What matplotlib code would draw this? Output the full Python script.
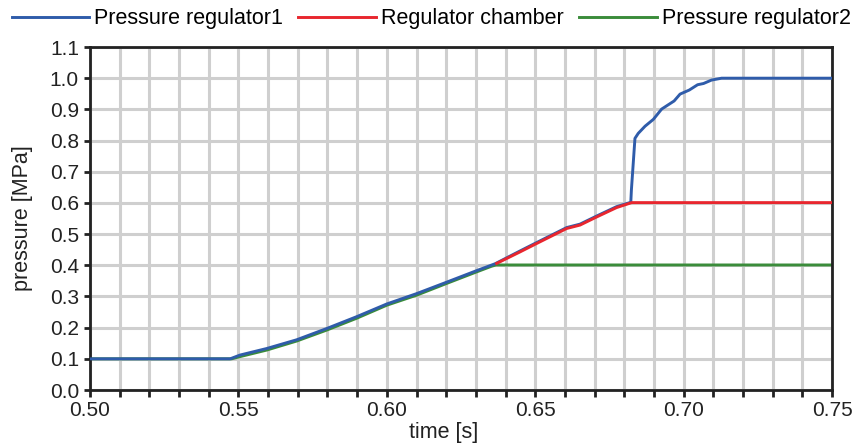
import matplotlib
matplotlib.use("Agg")
import matplotlib.pyplot as plt
from matplotlib.ticker import MultipleLocator, FormatStrFormatter

plt.rcParams["font.family"] = ["Liberation Sans", "DejaVu Sans"]

# Pressure regulator 1 (blue)
t_reg1 = [0.500, 0.5472, 0.5505, 0.5595, 0.5696, 0.5797, 0.5898, 0.600, 0.610,
          0.6202, 0.6303, 0.6365, 0.6449, 0.6505, 0.6606, 0.6651, 0.6707, 0.6774,
          0.6822, 0.6824, 0.6836, 0.6847, 0.687, 0.6898, 0.6926, 0.6968, 0.6988,
          0.7019, 0.7047, 0.7067, 0.7094, 0.7128, 0.755]
p_reg1 = [0.100, 0.100, 0.112, 0.133, 0.161, 0.197, 0.235, 0.276, 0.309,
          0.346, 0.383, 0.405, 0.446, 0.473, 0.521, 0.532, 0.558, 0.588,
          0.602, 0.641, 0.807, 0.823, 0.846, 0.868, 0.901, 0.927, 0.949,
          0.962, 0.979, 0.983, 0.994, 1.000, 1.000]

# Regulator chamber (red)
t_chamber = [0.637, 0.6449, 0.6505, 0.6606, 0.6651, 0.6707, 0.6774, 0.6825, 0.755]
p_chamber = [0.406, 0.443, 0.470, 0.518, 0.529, 0.555, 0.585, 0.601, 0.601]

# Pressure regulator 2 (green)
t_reg2 = [0.500, 0.5477, 0.5505, 0.5595, 0.5696, 0.5797, 0.5898, 0.600, 0.610,
          0.6202, 0.6303, 0.6353, 0.6368, 0.755]
p_reg2 = [0.100, 0.100, 0.107, 0.128, 0.157, 0.192, 0.230, 0.272, 0.304,
          0.342, 0.379, 0.397, 0.401, 0.401]

fig = plt.figure(figsize=(8.59, 4.44), dpi=100)
ax = fig.add_axes([0.1048, 0.1216, 0.8638, 0.7725])

ax.plot(t_reg1, p_reg1, color="#2f5caa", lw=2.1, label="Pressure regulator1", zorder=3)
ax.plot(t_chamber, p_chamber, color="#e8262e", lw=2.1, label="Regulator chamber", zorder=4)
ax.plot(t_reg2, p_reg2, color="#3a8c3a", lw=2.1, label="Pressure regulator2", zorder=2)

ax.set_xlim(0.50, 0.75)
ax.set_ylim(0.0, 1.1)
ax.xaxis.set_major_locator(MultipleLocator(0.05))
ax.xaxis.set_minor_locator(MultipleLocator(0.01))
ax.yaxis.set_major_locator(MultipleLocator(0.1))
ax.xaxis.set_major_formatter(FormatStrFormatter("%.2f"))
ax.yaxis.set_major_formatter(FormatStrFormatter("%.1f"))

ax.grid(True, which="both", axis="x", color="#cfcfcf", lw=2.2, zorder=0)
ax.grid(True, which="major", axis="y", color="#cfcfcf", lw=2.2, zorder=0)
ax.set_axisbelow(True)

for side in ["left", "bottom", "top", "right"]:
    ax.spines[side].set_color("#222222")
    ax.spines[side].set_linewidth(2.0)

ax.tick_params(axis="both", which="both", direction="out", color="#222222",
               width=2.0, labelsize=15, labelcolor="#222222")
ax.tick_params(axis="x", which="both", length=5, pad=3)
ax.tick_params(axis="y", which="major", length=4, pad=4)

ax.set_ylabel("pressure [MPa]", fontsize=15.5, color="#222222", labelpad=12)
ax.set_xlabel("time [s]", fontsize=15.5, color="#222222", va="top")
ax.xaxis.set_label_coords(0.476, -0.094)

fig.legend(loc="center", bbox_to_anchor=(0.502, 0.958), ncol=3, frameon=False,
           fontsize=15.5, handlelength=3.6, handletextpad=0.25, columnspacing=0.7)

fig.savefig("out.png", dpi=100)
plt.close(fig)
